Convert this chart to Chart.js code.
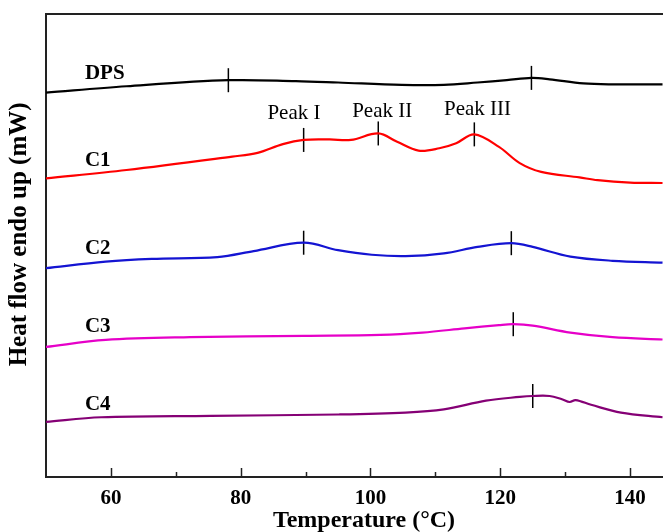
<!DOCTYPE html>
<html>
<head>
<meta charset="utf-8">
<script src="https://cdn.jsdelivr.net/npm/chart.js@4.4.0/dist/chart.umd.min.js"></script>
<style>
  html, body { margin: 0; padding: 0; background: #fff; overflow: hidden; }
  #wrap { width: 682px; height: 532px; }
</style>
</head>
<body>
<div id="wrap"><canvas id="dsc" width="682" height="532"></canvas></div>
<script>
// temperatures (°C) and heat flow (arbitrary, offset curves)
const dpsT = [50, 62.4, 78.1, 88.5, 95, 104.8, 111.3, 116.5, 121, 124.8, 127.6, 132.8, 137.3, 145];
const dpsY = [83.0, 84.4, 85.7, 85.5, 85.2, 84.7, 84.7, 85.2, 85.7, 86.2, 85.9, 85.0, 84.8, 84.8];

const c1T = [50, 62.4, 78.7, 82.6, 86.5, 89.7, 93.7, 97, 101.2, 104.1, 107.4, 110.6, 113.2, 116, 119.8, 123, 126.3, 132.2, 135, 140, 145];
const c1Y = [64.5, 66.3, 69.2, 70.0, 71.9, 72.8, 72.9, 72.8, 74.2, 72.4, 70.5, 71.0, 72.1, 74.0, 71.3, 67.8, 65.9, 64.7, 64.1, 63.6, 63.5];

const c2T = [50, 59.2, 66.3, 76.4, 82, 89.7, 95, 100.2, 105.4, 111.3, 116.5, 121.7, 125, 130.8, 137.3, 145];
const c2Y = [45.1, 46.5, 47.1, 47.5, 48.8, 50.6, 49.0, 48.0, 47.7, 48.3, 49.7, 50.5, 49.7, 47.6, 46.7, 46.3];

const c3T = [50, 59.2, 72.2, 89.8, 101.5, 108, 114.5, 119.8, 122, 125, 130.8, 137.3, 145];
const c3Y = [28.1, 29.6, 30.2, 30.5, 30.7, 31.2, 32.1, 32.8, 33.0, 32.7, 31.2, 30.2, 29.7];

const c4T = [50, 58.5, 75.4, 95, 105.4, 111.3, 117.8, 123, 125, 127.6, 129.5, 130.7, 131.6, 134, 138.6, 145];
const c4Y = [11.9, 12.9, 13.2, 13.5, 13.9, 14.6, 16.5, 17.3, 17.5, 17.5, 16.8, 16.2, 16.6, 15.6, 13.9, 12.9];

// peak markers [T, value]
const peakMarks = [
  [78.1, 85.7], [124.8, 86.2],
  [89.7, 72.8], [101.2, 74.2], [116, 74.0],
  [89.7, 50.6], [121.7, 50.5],
  [122, 33.0],
  [125, 17.5]
];

const seriesNames = ['DPS', 'C1', 'C2', 'C3', 'C4'];
const nameT = [56, 56, 56, 56, 56];
const nameY = [87.1, 68.4, 49.4, 32.5, 15.6];

const peakNames = ['Peak I', 'Peak II', 'Peak III'];
const peakNameT = [88.2, 101.8, 116.5];
const peakNameY = [78.6, 79.0, 79.4];

const xTicks = [60, 80, 100, 120, 140];
const xMinor = [70, 90, 110, 130];

const serif = "'Liberation Serif', 'Times New Roman', serif";

function pts(xs, ys) {
  return xs.map((x, i) => ({ x: x, y: ys[i] }));
}

function curve(label, xs, ys, color) {
  return {
    label: label,
    data: pts(xs, ys),
    borderColor: color,
    borderWidth: 2.2,
    pointRadius: 0,
    tension: 0.35,
    fill: false
  };
}

const labelPlugin = {
  id: 'labels',
  afterDatasetsDraw(chart) {
    const ctx = chart.ctx;
    const xs = chart.scales.x, ys = chart.scales.y;
    const a = chart.chartArea;
    ctx.save();
    // top frame line
    ctx.strokeStyle = '#222';
    ctx.lineWidth = 2;
    ctx.beginPath();
    ctx.moveTo(a.left - 1, a.top);
    ctx.lineTo(a.right, a.top);
    ctx.stroke();
    // inward ticks on the x axis
    ctx.lineWidth = 1.5;
    xTicks.forEach(t => {
      const px = Math.round(xs.getPixelForValue(t)) + 0.5;
      ctx.beginPath(); ctx.moveTo(px, a.bottom); ctx.lineTo(px, a.bottom - 9); ctx.stroke();
    });
    xMinor.forEach(t => {
      const px = Math.round(xs.getPixelForValue(t)) + 0.5;
      ctx.beginPath(); ctx.moveTo(px, a.bottom); ctx.lineTo(px, a.bottom - 5); ctx.stroke();
    });
    // series names
    ctx.fillStyle = '#000';
    ctx.textBaseline = 'middle';
    ctx.textAlign = 'left';
    ctx.font = 'bold 21px ' + serif;
    seriesNames.forEach((n, i) => {
      ctx.fillText(n, xs.getPixelForValue(nameT[i]), ys.getPixelForValue(nameY[i]));
    });
    // peak names
    ctx.textAlign = 'center';
    ctx.font = '21px ' + serif;
    peakNames.forEach((n, i) => {
      ctx.fillText(n, xs.getPixelForValue(peakNameT[i]), ys.getPixelForValue(peakNameY[i]));
    });
    // y axis title, a bit above the plot centre as in the figure
    ctx.save();
    ctx.translate(20, ys.getPixelForValue(52.4));
    ctx.rotate(-Math.PI / 2);
    ctx.font = 'bold 25px ' + serif;
    ctx.fillText('Heat flow endo up (mW)', 0, 0);
    ctx.restore();
    ctx.restore();
  }
};

new Chart(document.getElementById('dsc'), {
  type: 'line',
  data: {
    datasets: [
      curve('DPS', dpsT, dpsY, '#000000'),
      curve('C1', c1T, c1Y, '#ff0000'),
      curve('C2', c2T, c2Y, '#1414d2'),
      curve('C3', c3T, c3Y, '#e600c8'),
      curve('C4', c4T, c4Y, '#850075'),
      {
        label: 'peaks',
        data: peakMarks.map(p => ({ x: p[0], y: p[1] })),
        showLine: false,
        pointStyle: 'line',
        rotation: 90,
        pointRadius: 12,
        pointBorderColor: '#000',
        pointBorderWidth: 1.5,
        pointHoverRadius: 12
      }
    ]
  },
  options: {
    responsive: false,
    animation: false,
    layout: { autoPadding: false, padding: { top: 14, right: 0, left: 0, bottom: 0 } },
    plugins: {
      legend: { display: false },
      tooltip: { enabled: false }
    },
    scales: {
      x: {
        type: 'linear',
        min: 50,
        max: 148,
        afterFit(scale) {
          scale.height = 55;
          scale.paddingLeft = 0;
          scale.paddingRight = 0;
        },
        afterBuildTicks(scale) { scale.ticks = xTicks.map(v => ({ value: v })); },
        grid: { display: false, drawTicks: false },
        border: { display: true, color: '#222', width: 2 },
        ticks: {
          padding: 9,
          color: '#000',
          font: { family: serif, size: 21, weight: 'bold' }
        },
        title: {
          display: true,
          text: 'Temperature (°C)',
          color: '#000',
          padding: { top: 0, bottom: 0 },
          font: { family: serif, size: 24, weight: 'bold', lineHeight: 0.9 }
        }
      },
      y: {
        min: 0,
        max: 100,
        afterFit(scale) { scale.width = 46; },
        grid: { display: false, drawTicks: false },
        border: { display: true, color: '#222', width: 2 },
        ticks: { display: false }
      }
    }
  },
  plugins: [labelPlugin]
});
</script>
</body>
</html>
